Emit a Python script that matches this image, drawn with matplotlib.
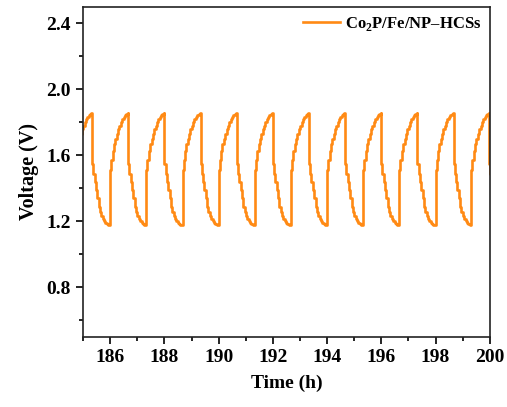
import numpy as np
import matplotlib
matplotlib.use("Agg")
import matplotlib.pyplot as plt
from matplotlib.ticker import MultipleLocator, FormatStrFormatter

plt.rcParams['font.family'] = ['Liberation Serif', 'DejaVu Serif']
plt.rcParams['font.weight'] = 'bold'
plt.rcParams['mathtext.fontset'] = 'custom'
plt.rcParams['mathtext.rm'] = 'Liberation Serif:bold'
plt.rcParams['mathtext.bf'] = 'Liberation Serif:bold'

# one charge / discharge half cycle (time in h from half-cycle start)
charge_t = [0.0, 0.04, 0.09, 0.14, 0.19, 0.24, 0.29, 0.34, 0.39, 0.44, 0.49, 0.54, 0.59, 0.64]
charge_v = [1.51, 1.57, 1.63, 1.67, 1.70, 1.73, 1.76, 1.78, 1.80, 1.82, 1.835, 1.845, 1.85, 1.855]
discharge_t = [0.0, 0.04, 0.09, 0.14, 0.19, 0.24, 0.29, 0.34, 0.39, 0.44, 0.49, 0.54, 0.59, 0.64]
discharge_v = [1.55, 1.49, 1.44, 1.39, 1.34, 1.29, 1.26, 1.235, 1.215, 1.20, 1.19, 1.185, 1.18, 1.18]
half_cycle = 0.665

# start time of each charge step
cycle_starts = [184.667, 186.0, 187.333, 188.667, 190.0, 191.333, 192.667,
                194.0, 195.333, 196.667, 198.0, 199.32]

t_all, v_all = [], []
for s in cycle_starts:
    for dt, v in zip(charge_t, charge_v):
        t_all.append(s + dt)
        v_all.append(v)
    for dt, v in zip(discharge_t, discharge_v):
        t_all.append(s + half_cycle + dt)
        v_all.append(v)
t_all = np.array(t_all)
v_all = np.array(v_all)

fig = plt.figure(figsize=(5.07, 4.07), dpi=100)
ax = fig.add_axes([0.164, 0.172, 0.802, 0.811])
ax.plot(t_all, v_all, drawstyle='steps-post', color='#FF8A14', lw=1.9,
        label='Co$_{2}$P/Fe/NP\u2013HCSs')

ax.set_xlim(185, 200)
ax.set_ylim(0.5, 2.5)
ax.xaxis.set_major_locator(MultipleLocator(2))
ax.xaxis.set_minor_locator(MultipleLocator(1))
ax.yaxis.set_minor_locator(MultipleLocator(0.2))
ax.set_yticks([0.8, 1.2, 1.6, 2.0, 2.4])
ax.yaxis.set_major_formatter(FormatStrFormatter('%.1f'))
ax.tick_params(which='both', direction='out', width=1.2, labelsize=14, top=False, right=False)
ax.tick_params(which='major', length=5, pad=4)
ax.tick_params(which='minor', length=3)
for sp in ax.spines.values():
    sp.set_linewidth(1.2)
    sp.set_color('#222222')

ax.set_xlabel('Time (h)', fontsize=14, fontweight='bold', labelpad=6)
ax.set_ylabel('Voltage (V)', fontsize=14.5, fontweight='bold', labelpad=5)

leg = ax.legend(loc='upper right', frameon=False, fontsize=12, handlelength=2.2,
                handletextpad=0.3, borderaxespad=0.1)

fig.savefig('out.png', dpi=100)
